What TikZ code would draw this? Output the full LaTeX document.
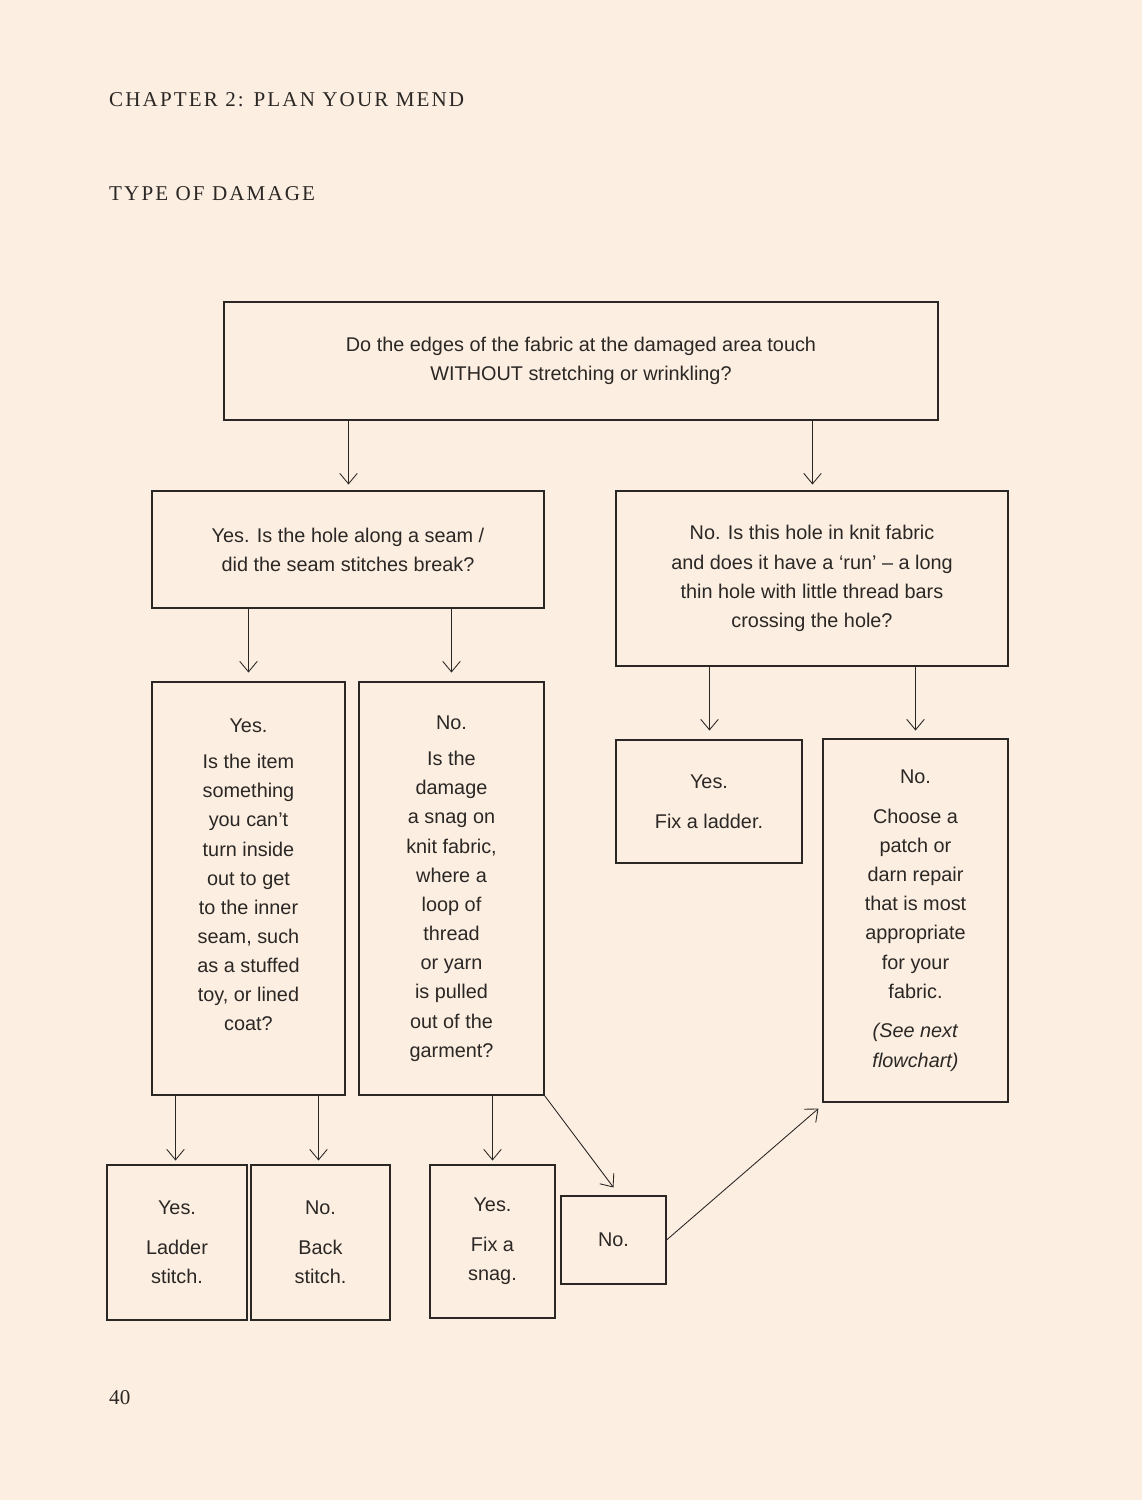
\documentclass[tikz,border=0pt]{standalone}
\usepackage{fontspec}
\setmainfont{Liberation Serif}
\newfontfamily\flowfont{Liberation Sans}
\usetikzlibrary{positioning}
\usetikzlibrary{arrows.meta}
\usetikzlibrary{calc}
\definecolor{paper}{HTML}{FCEFE1}
\definecolor{ink}{HTML}{2B2725}
\tikzset{
  box/.style={draw=ink,line width=0.6pt,align=center,inner sep=0pt,
    font=\flowfont\fontsize{11.3pt}{16.6pt}\selectfont,text=ink},
  flow/.style={draw=ink,line width=0.5pt,-{Straight Barb[length=6pt,width=10pt]}},
  head/.style={anchor=west,text=ink,font=\fontsize{12pt}{14pt}\selectfont\addfontfeatures{LetterSpace=10}}
}
\begin{document}
\begin{tikzpicture}[x=0.02cm,y=-0.02cm]
\fill[paper] (0,0) rectangle (1142,1500);
\node[head] (chap) at (103,100) {CHAPTER 2: PLAN YOUR MEND};
\node[head] (type) at (103,194) {TYPE OF DAMAGE};
\node[text=ink,anchor=west,font=\fontsize{12pt}{14pt}\selectfont] (page) at (103,1398) {40};
% question boxes
\node[box,minimum width=714*0.02cm,minimum height=118*0.02cm] (top) at (581,361)
  {Do the edges of the fabric at the damaged area touch\\WITHOUT stretching or wrinkling?};
\node[box,minimum width=392*0.02cm,minimum height=117*0.02cm] (yes) at (348,549.5)
  {Yes. Is the hole along a seam /\\did the seam stitches break?};
\node[box,minimum width=392*0.02cm,minimum height=175*0.02cm] (no) at (812,578.5)
  {No. Is this hole in knit fabric\\and does it have a ‘run’ – a long\\thin hole with little thread bars\\crossing the hole?};
\node[box,minimum width=193*0.02cm,minimum height=413*0.02cm] (seam) at (248.5,888.5)
  {Yes.\\[4pt]Is the item\\something\\you can’t\\turn inside\\out to get\\to the inner\\seam, such\\as a stuffed\\toy, or lined\\coat?\\[-6pt]\strut};
\node[box,minimum width=185*0.02cm,minimum height=413*0.02cm] (snag) at (451.5,888.5)
  {No.\\[4pt]Is the\\damage\\a snag on\\knit fabric,\\where a\\loop of\\thread\\or yarn\\is pulled\\out of the\\garment?};
\node[box,minimum width=186*0.02cm,minimum height=123*0.02cm] (ladder) at (709,801.5)
  {Yes.\\[6pt]Fix a ladder.};
\node[box,minimum width=185*0.02cm,minimum height=363*0.02cm] (patch) at (915.5,920.5)
  {No.\\[6pt]Choose a\\patch or\\darn repair\\that is most\\appropriate\\for your\\fabric.\\[6pt]\textit{(See next}\\\textit{flowchart)}};
% answer boxes
\node[box,minimum width=140*0.02cm,minimum height=155*0.02cm] (ladst) at (177,1242.5)
  {Yes.\\[6pt]Ladder\\stitch.};
\node[box,minimum width=139*0.02cm,minimum height=155*0.02cm] (backst) at (320.5,1242.5)
  {No.\\[6pt]Back\\stitch.};
\node[box,minimum width=125*0.02cm,minimum height=153*0.02cm] (fixsnag) at (492.5,1241.5)
  {Yes.\\[6pt]Fix a\\snag.};
\node[box,minimum width=105*0.02cm,minimum height=88*0.02cm] (nosnag) at (613.5,1240)
  {No.};
% connectors
\draw[flow] ($(top.south -| yes.center)+(0.5,0)$) -- ++(0,64);
\draw[flow] ($(top.south -| no.center)+(0.5,0)$) -- ++(0,64);
\draw[flow] (yes.south -| seam.center) -- ++(0,64);
\draw[flow] (yes.south -| snag.center) -- ++(0,64);
\draw[flow] ($(no.south -| ladder.center)+(0.5,0)$) -- ++(0,64);
\draw[flow] (no.south -| patch.center) -- ++(0,64);
\draw[flow] ($(seam.south -| ladst.center)+(-1.5,0)$) -- ++(0,65);
\draw[flow] ($(seam.south)+(70,0)$) -- ++(0,65);
\draw[flow] (snag.south -| fixsnag.center) -- ++(0,65);
\draw[flow] (snag.south east) -- ($(nosnag.north)+(0,-8)$);
\draw[flow] (nosnag.east) -- ($(patch.south west)+(-4,6)$);
\end{tikzpicture}
\end{document}
